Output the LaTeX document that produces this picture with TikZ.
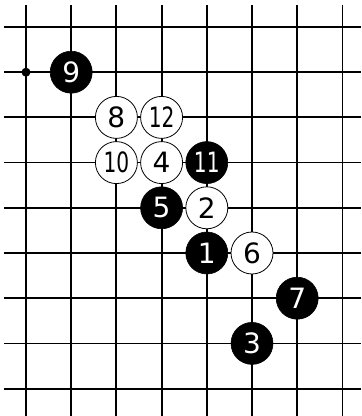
\documentclass[tikz,border=0pt]{standalone}
\usepackage{fontspec}
\setmainfont{DejaVu Sans}
\begin{document}
\begin{tikzpicture}[x=45.2pt,y=-45.2pt,
  gridline/.style={line width=1.8pt,black},
  bstone/.style={circle,fill=black,draw=black,line width=0.6pt,inner sep=0pt,minimum size=42pt,text=white,font=\fontsize{28}{28}\selectfont},
  wstone/.style={circle,fill=white,draw=black,line width=0.8pt,inner sep=0pt,minimum size=42pt,text=black,font=\fontsize{28}{28}\selectfont}]
\newcommand\twod[1]{\scalebox{0.72}[1]{#1}}
\useasboundingbox[fill=white] (-0.575,-0.597) rectangle (7.412,8.606);
\foreach \i in {0,...,7} \draw[gridline] (\i,-0.487) -- (\i,8.606);
\foreach \j in {0,...,8} \draw[gridline] (-0.487,\j) -- (7.412,\j);
\node[circle,fill=black,inner sep=0pt,minimum size=9pt] (hoshi) at (0,1) {};
\node[bstone] (s9) at (1,1) {9};
\node[wstone] (s8) at (2,2) {8};
\node[wstone] (s12) at (3,2) {\twod{12}};
\node[wstone] (s10) at (2,3) {\twod{10}};
\node[wstone] (s4) at (3,3) {4};
\node[bstone] (s11) at (4,3) {\twod{11}};
\node[bstone] (s5) at (3,4) {5};
\node[wstone] (s2) at (4,4) {2};
\node[bstone] (s1) at (4,5) {1};
\node[wstone] (s6) at (5,5) {6};
\node[bstone] (s7) at (6,6) {7};
\node[bstone] (s3) at (5,7) {3};
\end{tikzpicture}
\end{document}
